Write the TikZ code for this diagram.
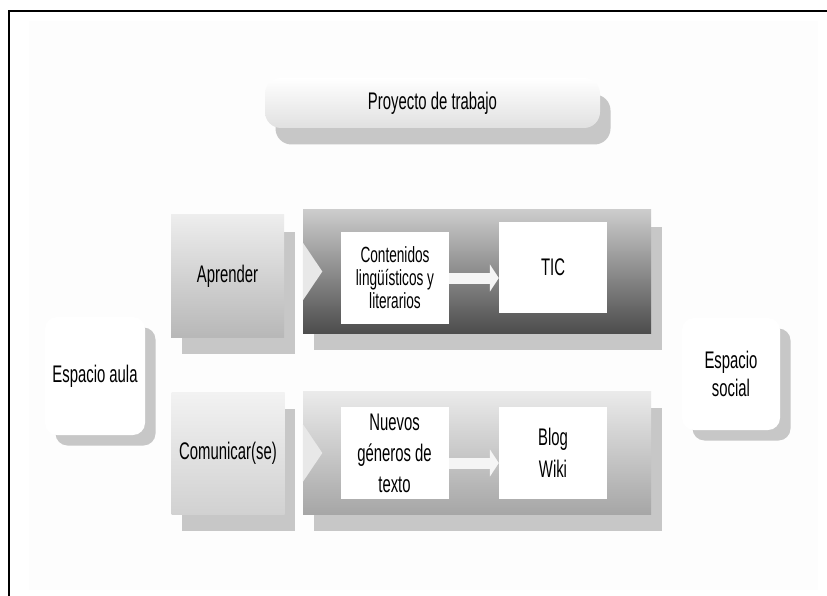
\documentclass[tikz,border=0pt]{standalone}
\usepackage{fontspec}
\setmainfont{Liberation Sans}[FakeStretch=0.62]
\usepackage{tikz}
\usetikzlibrary{arrows.meta,shadows}
\tikzset{%
            base/.style = {rectangle, draw=none, inner sep=0pt,
                           text centered, align=center,
                           font=\fontsize{24}{30}\selectfont},
  dropbox/.style = {drop shadow={shadow xshift=10.5pt, shadow yshift=-16.5pt,
                                 fill=black!22, opacity=1}},
  pill/.style  = {base, dropbox, rounded corners=16pt, minimum width=335pt,
                  minimum height=50pt, top color=white, bottom color=black!12},
  verb/.style  = {base, dropbox, minimum width=113pt, minimum height=122pt},
  row/.style   = {base, dropbox, minimum width=348pt, minimum height=123pt},
  box0/.style  = {base, fill=white, minimum width=108pt, minimum height=92pt},
  space/.style = {base, fill=white, rounded corners=12pt,
                  drop shadow={shadow xshift=10.5pt, shadow yshift=-10.5pt,
                               fill=black!22, opacity=1}},
  notch/.style = {fill=black!9},
  blockarrow/.style = {draw=black!4, line width=11pt,
                       -{Triangle[length=9pt,width=27pt]}},
}
\begin{document}
\begin{tikzpicture}[x=1pt, y=-1pt]
  \useasboundingbox (0,0) rectangle (827,596);
  \fill[black!0.7] (29,21) rectangle (818,590);
  \draw[line width=2pt] (9,596) -- (9,11) -- (827,11);

  \node (proy)   [pill] at (432.5,103)  {Proyecto de trabajo};

  % fila superior
  \node (aprend) [verb, top color=black!7, bottom color=black!28]
                 at (227.5,276) {Aprender};
  \node (rowA)   [row, top color=black!20, bottom color=black!70]
                 at (477,271.5) {};
  \fill[notch] (rowA.west) ++(0,-29) -- ++(19.5,29) -- ++(-19.5,29) -- cycle;
  \node (cont)   [box0, font=\fontsize{22}{23}\selectfont] at (395,278)
                 {Contenidos\\ lingüísticos y\\ literarios};
  \node (tic)    [box0, minimum height=91pt] at (553,267.5) {TIC};

  % fila inferior
  \node (comun)  [verb, top color=black!5, bottom color=black!18]
                 at (228,453) {Comunicar(se)};
  \node (rowB)   [row, top color=black!8, bottom color=black!35]
                 at (477,453) {};
  \fill[notch] (rowB.west) ++(0,-29) -- ++(19.5,29) -- ++(-19.5,29) -- cycle;
  \node (nuev)   [box0, font=\fontsize{24}{31}\selectfont] at (394.5,453)
                 {Nuevos\\ géneros de\\ texto};
  \node (blog)   [box0, font=\fontsize{24}{32}\selectfont] at (553,453)
                 {Blog\\ Wiki};

  \coordinate (nuevarr) at ([yshift=-10pt]nuev.east);
  \draw[blockarrow] (cont.east) -- (cont.east -| tic.west);
  \draw[blockarrow] (nuevarr) -- (nuevarr -| blog.west);

  % espacios
  \node (aula)   [space, minimum width=100pt, minimum height=118pt]
                 at (95,376) {Espacio aula};
  \node (social) [space, minimum width=98pt, minimum height=112pt,
                  font=\fontsize{24}{28}\selectfont]
                 at (731,374) {Espacio\\ social};
\end{tikzpicture}
\end{document}
